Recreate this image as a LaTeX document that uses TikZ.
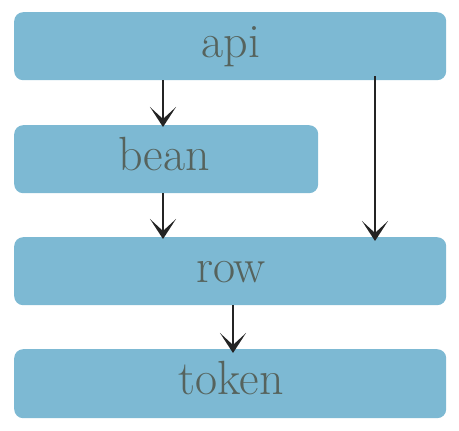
\documentclass[tikz,border=0pt]{standalone}
\usetikzlibrary{arrows.meta}
\definecolor{boxfill}{HTML}{7DB9D3}
\definecolor{txt}{HTML}{56635D}
\definecolor{arr}{HTML}{242424}
\begin{document}
\begin{tikzpicture}[x=1pt,y=-1pt,
  blk/.style={draw=none,fill=boxfill,rounded corners=9pt,anchor=north west,inner sep=0pt},
  lbl/.style={text=txt,anchor=base,inner sep=0pt,font=\fontsize{48}{52}\selectfont},
  link/.style={draw=arr,line width=2.4pt,-{Stealth[length=20pt,width=26pt,inset=12pt]}}]
\useasboundingbox (0,0) rectangle (459,431);
\node[blk,minimum width=432pt,minimum height=68pt] (api) at (14,12) {};
\node[lbl] (tapi) at (231,57) {api};
\node[blk,minimum width=304pt,minimum height=68pt] (bean) at (14,125) {};
\node[lbl] (tbean) at (164,170) {bean};
\node[blk,minimum width=432pt,minimum height=68pt] (row) at (14,237) {};
\node[lbl] (trow) at (231,282) {row};
\node[blk,minimum width=432pt,minimum height=69pt] (token) at (14,349) {};
\node[lbl] (ttoken) at (231,394) {token};
\coordinate (c1) at (163,0);
\coordinate (c2) at (375,0);
\coordinate (c3) at (233,0);
\draw[link] (api.south -| c1) -- ([yshift=-2pt]bean.north -| c1);
\draw[link] ([yshift=4pt]api.south -| c2) -- ([yshift=-4pt]row.north -| c2);
\draw[link] (bean.south -| c1) -- ([yshift=-2pt]row.north -| c1);
\draw[link] (row.south -| c3) -- ([yshift=-4pt]token.north -| c3);
\end{tikzpicture}
\end{document}
